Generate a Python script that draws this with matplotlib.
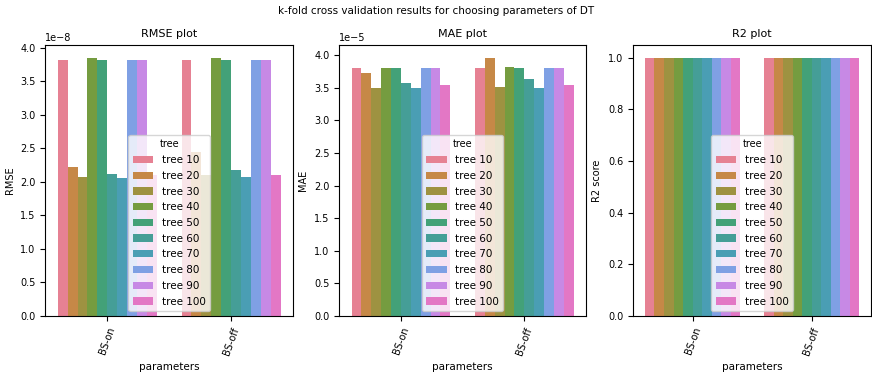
import numpy as np
import matplotlib
matplotlib.use("Agg")
import matplotlib.pyplot as plt
import seaborn as sns

params = ["BS-on", "BS-off"]
trees = ["tree 10", "tree 20", "tree 30", "tree 40", "tree 50",
         "tree 60", "tree 70", "tree 80", "tree 90", "tree 100"]

# values per tree: [BS-on, BS-off]
rmse = [
    [3.82e-8, 3.82e-8],
    [2.22e-8, 2.45e-8],
    [2.08e-8, 2.10e-8],
    [3.84e-8, 3.85e-8],
    [3.82e-8, 3.82e-8],
    [2.12e-8, 2.18e-8],
    [2.06e-8, 2.08e-8],
    [3.81e-8, 3.81e-8],
    [3.82e-8, 3.81e-8],
    [2.10e-8, 2.10e-8],
]
mae = [
    [3.80e-5, 3.80e-5],
    [3.72e-5, 3.96e-5],
    [3.50e-5, 3.51e-5],
    [3.80e-5, 3.82e-5],
    [3.80e-5, 3.80e-5],
    [3.58e-5, 3.63e-5],
    [3.49e-5, 3.50e-5],
    [3.80e-5, 3.80e-5],
    [3.80e-5, 3.80e-5],
    [3.55e-5, 3.55e-5],
]
r2 = [[0.9999999, 0.9999999] for _ in trees]

panels = [
    ("RMSE plot", "RMSE", rmse),
    ("MAE plot", "MAE", mae),
    ("R2 plot", "R2 score", r2),
]

plt.rcParams['font.size'] = 7
palette = sns.color_palette("husl", len(trees), desat=0.75)

fig = plt.figure(figsize=(8.72, 3.74), dpi=100)
fig.suptitle("k-fold cross validation results for choosing parameters of DT",
             fontsize=7.5, y=0.985)

lefts = [0.052, 0.389, 0.726]
widths = [0.284, 0.283, 0.273]
x = np.arange(len(params))
n = len(trees)
w = 0.8 / n

for (title, ylab, vals), left, wd in zip(panels, lefts, widths):
    ax = fig.add_axes([left, 0.155, wd, 0.725])
    for i, (tree, v) in enumerate(zip(trees, vals)):
        ax.bar(x - 0.4 + w * (i + 0.5), v, width=w, color=palette[i],
               label=tree)
    ax.set_xlim(-0.5, 1.5)
    ax.set_xticks(x)
    ax.set_xticklabels(params, rotation=70)
    ax.set_title(title, fontsize=8)
    ax.set_ylabel(ylab, fontsize=7)
    ax.set_xlabel("parameters", fontsize=7.5)
    ax.legend(title="tree", loc="lower center", fontsize=7.5,
              title_fontsize=7, labelspacing=0.55)

fig.savefig("out.png", dpi=100)
